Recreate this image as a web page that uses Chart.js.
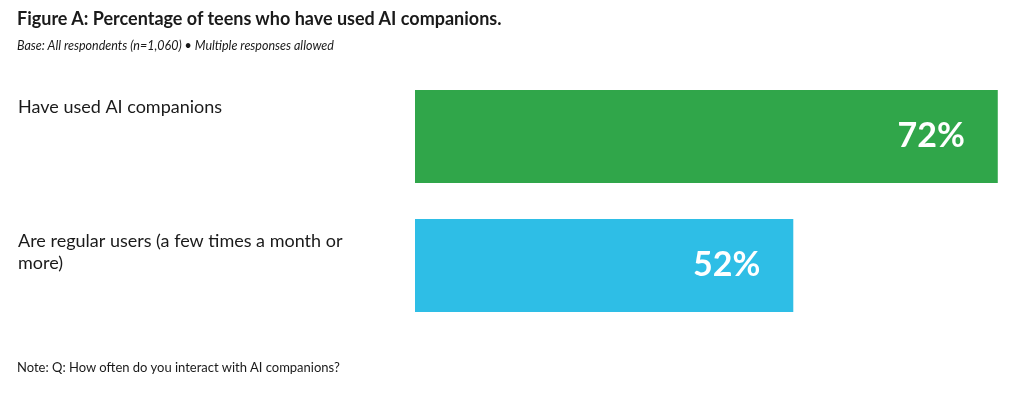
<!DOCTYPE html>
<html>
<head>
<meta charset="utf-8">
<script src="https://cdn.jsdelivr.net/npm/chart.js@4/dist/chart.umd.min.js"></script>
<style>
  html, body { margin: 0; padding: 0; background: #fff; }
  #wrap { position: relative; width: 1024px; height: 396px; font-family: Lato, sans-serif; color: #1a1a1a; }
  #title { position: absolute; left: 17px; top: 7px; font-size: 18px; font-weight: bold; }
  #subtitle { position: absolute; left: 17px; top: 38px; font-size: 12.5px; font-style: italic; }
  #note { position: absolute; left: 17px; top: 359px; font-size: 13px; }
  canvas { position: absolute; left: 0; top: 0; }
</style>
</head>
<body>
<div id="wrap">
  <canvas id="chart" width="1024" height="396"></canvas>
  <div id="title">Figure A: Percentage of teens who have used AI companions.</div>
  <div id="subtitle">Base: All respondents (n=1,060) • Multiple responses allowed</div>
  <div id="note">Note: Q: How often do you interact with AI companions?</div>
</div>
<script>
// categories (each one may wrap onto two lines)
const categories = [
  ['Have used AI companions'],
  ['Are regular users (a few times a month or', 'more)']
];
const values = [72, 52];
const barColors = ['#30a64a', '#2ebee6'];

// first-line baseline below each bar's top edge
const labelTopOffsets = [23, 28];

// category labels on the left and value labels inside the bars
const labelsPlugin = {
  id: 'labels',
  afterDatasetsDraw(chart) {
    const ctx = chart.ctx;
    const meta = chart.getDatasetMeta(0);
    ctx.save();
    meta.data.forEach((bar, i) => {
      const top = bar.y - bar.height / 2;
      ctx.fillStyle = '#1a1a1a';
      ctx.font = '18px Lato';
      ctx.textAlign = 'left';
      ctx.textBaseline = 'alphabetic';
      categories[i].forEach((line, j) => {
        ctx.fillText(line, 18, top + labelTopOffsets[i] + j * 22);
      });

      ctx.fillStyle = '#ffffff';
      ctx.font = 'bold 34px Lato';
      ctx.textAlign = 'right';
      ctx.textBaseline = 'middle';
      ctx.fillText(values[i] + '%', bar.x - 33, bar.y);
    });
    ctx.restore();
  }
};

const ctx = document.getElementById('chart').getContext('2d');
new Chart(ctx, {
  type: 'bar',
  data: {
    labels: categories,
    datasets: [{
      data: values,
      backgroundColor: barColors,
      borderWidth: 0,
      barPercentage: 0.72,
      categoryPercentage: 1.0
    }]
  },
  options: {
    indexAxis: 'y',
    responsive: false,
    animation: false,
    layout: { padding: { left: 415, right: 16, top: 72, bottom: 66 } },
    plugins: {
      legend: { display: false },
      tooltip: { enabled: false }
    },
    scales: {
      x: { display: false, min: 15, max: 73 },
      y: { display: false }
    }
  },
  plugins: [labelsPlugin]
});
</script>
</body>
</html>
